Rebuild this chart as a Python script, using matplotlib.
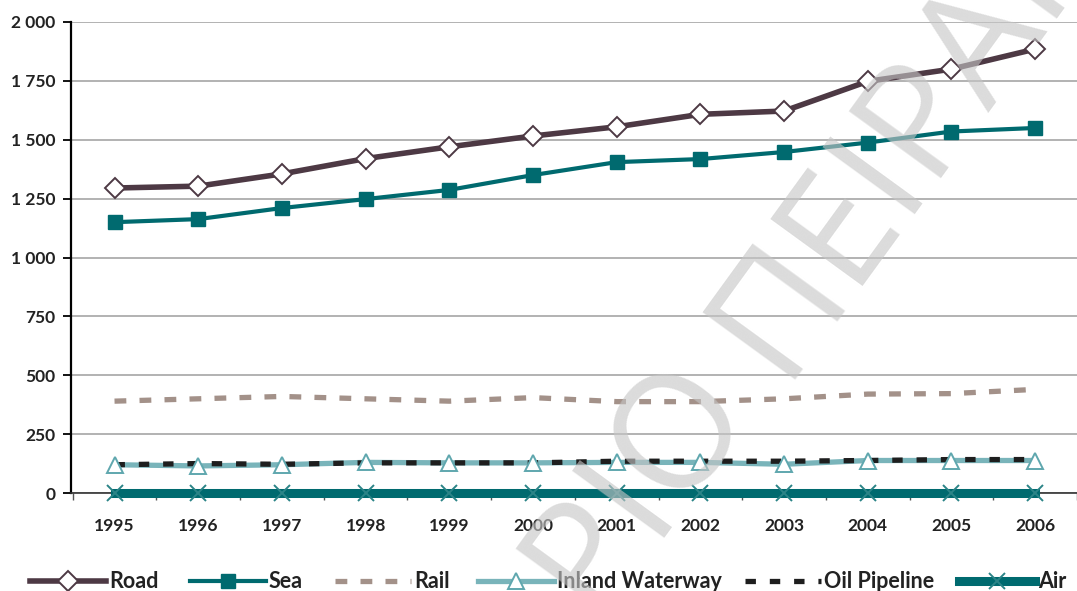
import matplotlib
matplotlib.use("Agg")
import matplotlib.pyplot as plt
from matplotlib.lines import Line2D
from matplotlib.ticker import FixedLocator, FuncFormatter

plt.rcParams['font.family'] = ['Lato', 'DejaVu Sans']
plt.rcParams['lines.scale_dashes'] = False

years = ["1995", "1996", "1997", "1998", "1999", "2000",
         "2001", "2002", "2003", "2004", "2005", "2006"]
road = [1295, 1303, 1355, 1420, 1470, 1516, 1555, 1608, 1622, 1748, 1800, 1885]
sea = [1150, 1163, 1210, 1248, 1287, 1350, 1405, 1418, 1448, 1488, 1535, 1550]
rail = [390, 400, 410, 400, 390, 405, 388, 388, 400, 420, 422, 440]
inland = [120, 115, 120, 130, 128, 128, 130, 130, 122, 138, 138, 138]
pipeline = [120, 125, 122, 128, 128, 128, 135, 135, 135, 138, 142, 142]
air = [2, 2, 2, 2, 2, 2, 2, 2, 2, 2, 2, 2]
y_ticks = [0, 250, 500, 750, 1000, 1250, 1500, 1750, 2000]

W, H = 1077, 591
fig = plt.figure(figsize=(W / 100, H / 100), dpi=100)
ax = fig.add_axes([71 / W, 1 - 493 / H, 1006 / W, (493 - 22) / H])

x = list(range(len(years)))

series = {}
series['Rail'] = ax.plot(x, rail, color='#a39189', lw=3.8, dashes=(8.5, 9.5),
                         zorder=3)[0]
ax.plot(x, inland, color='#79b4ba', lw=3.8, zorder=3)
series['Oil Pipeline'] = ax.plot(x, pipeline, color='#1e1e1e', lw=3.8,
                                 dashes=(7.5, 10.0), zorder=4)[0]
ax.plot(x, inland, ls='none', marker='^', ms=12, mfc='white',
        mec='#5fa7ae', mew=1.4, zorder=5)
series['Inland Waterway'] = Line2D([], [], color='#79b4ba', lw=3.8,
                                   marker='^', ms=12, mfc='white',
                                   mec='#5fa7ae', mew=1.4)
series['Air'] = ax.plot(x, air, color='#006a6f', lw=6.5, marker='x', ms=11,
                        mec='#2b8487', mew=1.4, zorder=5, clip_on=False)[0]
series['Sea'] = ax.plot(x, sea, color='#006a6f', lw=3.0, marker='s', ms=9.5,
                        mfc='#006a6f', mec='#006a6f', zorder=6)[0]
series['Road'] = ax.plot(x, road, color='#4d3944', lw=4.0, marker='D', ms=10,
                         mfc='white', mec='#4d3944', mew=1.4, zorder=7)[0]

ax.set_xlim(-0.52, 11.42)
ax.set_ylim(0, 2000)
ax.yaxis.set_major_locator(FixedLocator(y_ticks))
ax.yaxis.set_major_formatter(FuncFormatter(
    lambda v, p: f"{int(v):,}".replace(",", " ")))
ax.set_xticks(x)
ax.set_xticklabels(years)
ax.set_xticks([i - 0.5 for i in range(len(years) + 1)], minor=True)

ax.grid(axis='y', color='#a6a6a6', lw=1.2, zorder=1)
ax.set_axisbelow(True)
for s in ['top', 'right']:
    ax.spines[s].set_visible(False)
ax.spines['left'].set_linewidth(1.6)
ax.spines['bottom'].set_linewidth(1.2)
ax.spines['bottom'].set_color('#333333')

ax.tick_params(axis='y', length=6, width=1.3, labelsize=12.5, pad=5)
ax.tick_params(axis='x', which='major', length=0, labelsize=12.5, pad=18)
ax.tick_params(axis='x', which='minor', length=5, width=1.0, color='#555555')
for lab in ax.get_xticklabels() + ax.get_yticklabels():
    lab.set_fontweight('bold')
    lab.set_color('#222222')

# legend row along the bottom edge: one entry per series
legend_x = {'Road': 30, 'Sea': 190, 'Rail': 335, 'Inland Waterway': 478,
            'Oil Pipeline': 745, 'Air': 959}
for name, x0 in legend_x.items():
    lg = fig.legend([series[name]], [name], loc='center left',
                    bbox_to_anchor=(x0 / W, 1 - 582 / H), frameon=False,
                    borderpad=0, borderaxespad=0, handlelength=3.55,
                    handletextpad=0.12, numpoints=1,
                    prop={'size': 15.5, 'weight': 'bold'})
    for t in lg.get_texts():
        t.set_color('#222222')

# faint diagonal watermark over the plot
wm_kw = dict(rotation=54, rotation_mode='anchor', fontsize=115,
             color='#c6c6c6', alpha=0.62, va='baseline',
             family=['Open Sans', 'DejaVu Sans'], zorder=10)
anchor = (780 / W, 1 - 380 / H)
fig.text(*anchor, "ΠΕΙΡΑΙΑ", ha='left', **wm_kw)
fig.text(*anchor, "ΡΙΟ ", ha='right', **wm_kw)

fig.savefig("out.png", dpi=100)
